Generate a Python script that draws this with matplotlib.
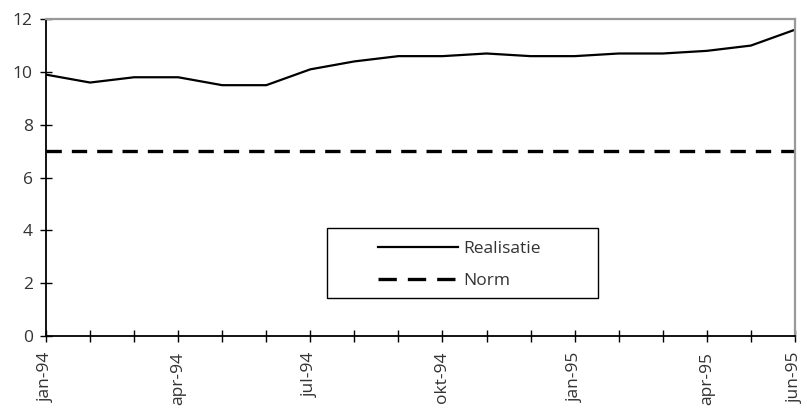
import matplotlib
matplotlib.use("Agg")
import matplotlib.pyplot as plt
from matplotlib.lines import Line2D
from matplotlib.patches import Rectangle

months = ["jan-94", "feb-94", "mrt-94", "apr-94", "mei-94", "jun-94",
          "jul-94", "aug-94", "sep-94", "okt-94", "nov-94", "dec-94",
          "jan-95", "feb-95", "mrt-95", "apr-95", "mei-95", "jun-95"]
realisatie = [9.9, 9.6, 9.8, 9.8, 9.5, 9.5, 10.1, 10.4, 10.6, 10.6, 10.7,
              10.6, 10.6, 10.7, 10.7, 10.8, 11.0, 11.6]
norm = [7.0] * len(months)
labelled = ["jan-94", "apr-94", "jul-94", "okt-94", "jan-95", "apr-95", "jun-95"]
yticks = [0, 2, 4, 6, 8, 10, 12]

plt.rcParams["font.family"] = ["Open Sans", "DejaVu Sans"]

fig = plt.figure(figsize=(8.07, 4.08), dpi=100)
ax = fig.add_axes([0.057, 0.1765, 0.928, 0.7765])

x = list(range(len(months)))
ax.plot(x, realisatie, color="black", lw=1.6)
ax.plot(x, norm, color="black", lw=2.4, dashes=(4.6, 3))

ax.set_xlim(0, len(months) - 1)
ax.set_ylim(0, 12)
ax.set_yticks(yticks)
ax.set_xticks(x)
ax.set_xticklabels([m if m in labelled else "" for m in months], rotation=90)

ax.tick_params(axis="both", direction="inout", length=9, width=1.0,
               labelsize=12.5, colors="black", labelcolor="#333333")
ax.tick_params(axis="y", pad=5)
ax.tick_params(axis="x", pad=7)

for side in ("top", "right"):
    ax.spines[side].set_color("#999999")
    ax.spines[side].set_linewidth(1.6)
for side in ("left", "bottom"):
    ax.spines[side].set_color("black")
    ax.spines[side].set_linewidth(1.3)

# legend: framed box wider than its entries
ax.add_patch(Rectangle((0.375, 0.12), 0.362, 0.221, transform=ax.transAxes,
                       fill=False, edgecolor="black", lw=1.0, zorder=3))
handles = [Line2D([], [], color="black", lw=1.6),
           Line2D([], [], color="black", lw=2.4, dashes=(5.5, 3.3))]
ax.legend(handles, ["Realisatie", "Norm"], loc="center left",
          bbox_to_anchor=(0.443, 0.224), frameon=False,
          fontsize=12.5, handlelength=4.6, handletextpad=0.3, labelspacing=0.95,
          borderpad=0, borderaxespad=0, labelcolor="#333333")

fig.savefig("out.png", dpi=100)
